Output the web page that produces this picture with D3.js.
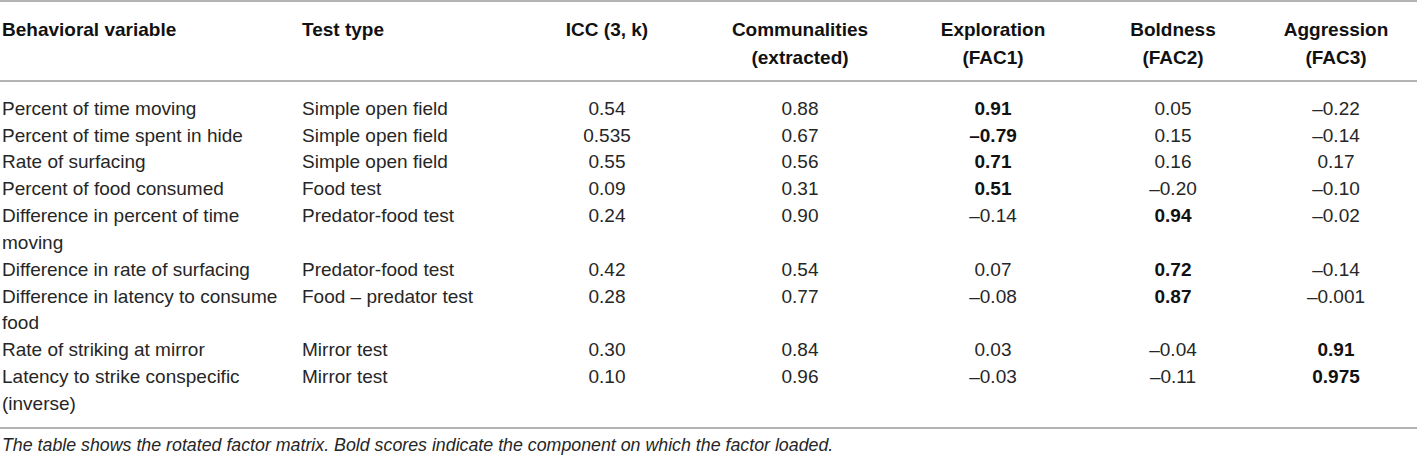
<!DOCTYPE html>
<html>
<head>
<meta charset="utf-8">
<script src="https://cdn.jsdelivr.net/npm/d3@7"></script>
<style>
  body { margin: 0; background: #fff; }
  text { font-family: "Helvetica Neue", "Liberation Sans", Arial, sans-serif; fill: #262626; }
</style>
</head>
<body>
<div id="table"></div>
<script>
// Table content
const headers = [
  ["Behavioral variable"],
  ["Test type"],
  ["ICC (3, k)"],
  ["Communalities", "(extracted)"],
  ["Exploration", "(FAC1)"],
  ["Boldness", "(FAC2)"],
  ["Aggression", "(FAC3)"]
];

const variables = [
  ["Percent of time moving"],
  ["Percent of time spent in hide"],
  ["Rate of surfacing"],
  ["Percent of food consumed"],
  ["Difference in percent of time", "moving"],
  ["Difference in rate of surfacing"],
  ["Difference in latency to consume", "food"],
  ["Rate of striking at mirror"],
  ["Latency to strike conspecific", "(inverse)"]
];

const testTypes = [
  "Simple open field", "Simple open field", "Simple open field", "Food test",
  "Predator-food test", "Predator-food test", "Food \u2013 predator test",
  "Mirror test", "Mirror test"
];

const icc = ["0.54", "0.535", "0.55", "0.09", "0.24", "0.42", "0.28", "0.30", "0.10"];
const communalities = ["0.88", "0.67", "0.56", "0.31", "0.90", "0.54", "0.77", "0.84", "0.96"];
const fac1 = ["0.91", "\u20130.79", "0.71", "0.51", "\u20130.14", "0.07", "\u20130.08", "0.03", "\u20130.03"];
const fac2 = ["0.05", "0.15", "0.16", "\u20130.20", "0.94", "0.72", "0.87", "\u20130.04", "\u20130.11"];
const fac3 = ["\u20130.22", "\u20130.14", "0.17", "\u20130.10", "\u20130.02", "\u20130.14", "\u20130.001", "0.91", "0.975"];
const loadedOn = [1, 1, 1, 1, 2, 2, 2, 3, 3];

const footnote = "The table shows the rotated factor matrix. Bold scores indicate the component on which the factor loaded.";

const width = 1417, height = 460;
const fs = 19;

const svg = d3.select("#table")
  .append("svg")
  .attr("width", width)
  .attr("height", height);

// column positions: first two left aligned, the rest centred
const colX = d3.scaleOrdinal()
  .domain(d3.range(7))
  .range([2, 302, 607, 800, 993, 1173, 1336]);
const colAnchor = i => i < 2 ? "start" : "middle";

// line index -> vertical centre
const nLines = d3.sum(variables, d => d.length);
const y = d3.scaleLinear()
  .domain([0, nLines - 1])
  .range([108, 403]);

const base = c => c + fs * 0.36;

// rules
const rules = [1, 81, 428];
svg.selectAll(".rule")
  .data(rules)
  .enter()
  .append("line")
    .attr("x1", 0)
    .attr("x2", width)
    .attr("y1", d => d)
    .attr("y2", d => d)
    .attr("stroke", "#9a9a9a")
    .attr("stroke-width", 1.5);

// header
headers.forEach((lines, i) => {
  lines.forEach((t, j) => {
    svg.append("text")
      .attr("x", colX(i))
      .attr("y", base(29 + j * 28))
      .attr("text-anchor", colAnchor(i))
      .attr("font-size", fs)
      .attr("font-weight", "bold")
      .style("fill", "#111")
      .text(t);
  });
});

// body rows
let lineIdx = 0;
variables.forEach((lines, r) => {
  const cells = [lines, [testTypes[r]], [icc[r]], [communalities[r]], [fac1[r]], [fac2[r]], [fac3[r]]];
  cells.forEach((cell, c) => {
    cell.forEach((t, j) => {
      const bold = c >= 4 && loadedOn[r] === c - 3;
      svg.append("text")
        .attr("x", colX(c))
        .attr("y", base(y(lineIdx + j)))
        .attr("text-anchor", colAnchor(c))
        .attr("font-size", fs)
        .attr("font-weight", bold ? "bold" : 300)
        .style("fill", bold ? "#111" : null)
        .text(t);
    });
  });
  lineIdx += lines.length;
});

// footnote
svg.append("text")
  .attr("x", 2)
  .attr("y", 451)
  .attr("font-size", 17.8)
  .attr("font-style", "italic")
  .attr("font-weight", 300)
  .text(footnote);
</script>
</body>
</html>
